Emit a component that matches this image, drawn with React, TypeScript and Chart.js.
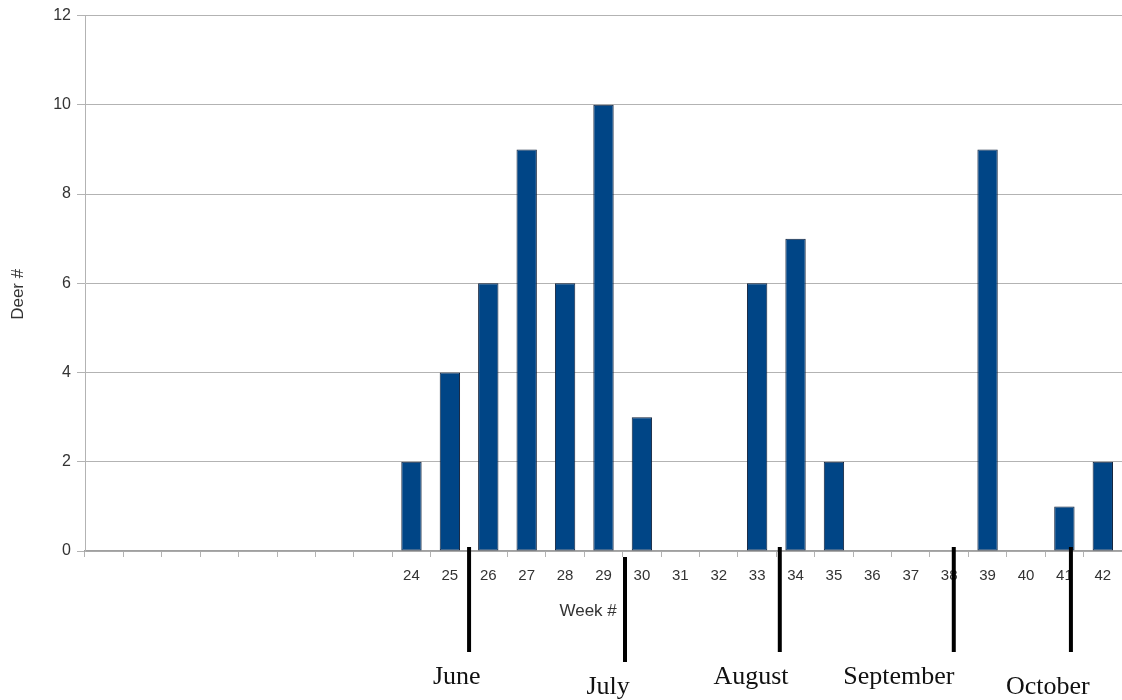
import React, { useEffect, useRef } from "react";
import { Chart, registerables } from "chart.js";

Chart.register(...registerables);

const weekLabels = ["", "", "", "", "", "", "", "", "24", "25", "26", "27", "28", "29", "30", "31", "32", "33", "34", "35", "36", "37", "38", "39", "40", "41", "42"];
const deerCounts = [null, null, null, null, null, null, null, null, 2, 4, 6, 9, 6, 10, 3, 0, 0, 6, 7, 2, 0, 0, 0, 9, 0, 1, 2];
const yTicks = [0, 2, 4, 6, 8, 10, 12];
const xAxisTitle = "Week #";
const yAxisTitle = "Deer #";

const monthNames = ["June", "July", "August", "September", "October"];
// position (in category units) of the marker line and of the label centre
const monthLinePos = [9.5, 13.56, 17.59, 22.12, 25.17];
const monthLabelPos = [9.18, 13.12, 16.84, 20.69, 24.57];

// pixel offsets relative to the zero line
const lineTop = [-4, 6, -4, -4, -4];
const lineBottom = [101, 111, 101, 101, 101];
const labelBaseline = [133, 143, 133, 133, 143];

const annotPlugin = {
  id: "monthMarks",
  afterDraw(chart: any) {
    const { ctx, chartArea } = chart;
    const x = chart.scales.x;
    const y0 = chart.scales.y.getPixelForValue(0);
    ctx.save();
    // axis titles
    ctx.fillStyle = "#333";
    ctx.font = "17px 'Liberation Sans'";
    ctx.textAlign = "center";
    ctx.textBaseline = "middle";
    ctx.fillText(xAxisTitle, x.getPixelForValue(12.6), y0 + 60);
    ctx.save();
    ctx.translate(18, (chartArea.top + chartArea.bottom) / 2 + 11);
    ctx.rotate(-Math.PI / 2);
    ctx.fillText(yAxisTitle, 0, 0);
    ctx.restore();
    // month markers
    ctx.strokeStyle = "#000";
    ctx.lineWidth = 4;
    ctx.fillStyle = "#111";
    ctx.font = "26px 'Liberation Serif'";
    ctx.textBaseline = "alphabetic";
    monthNames.forEach((name, i) => {
      const lx = x.getPixelForValue(monthLinePos[i]);
      ctx.beginPath();
      ctx.moveTo(lx, y0 + lineTop[i]);
      ctx.lineTo(lx, y0 + lineBottom[i]);
      ctx.stroke();
      const tx = x.getPixelForValue(monthLabelPos[i]);
      ctx.fillText(name, tx, y0 + labelBaseline[i]);
    });
    ctx.restore();
  },
};

export default function App() {
  const ref = useRef<HTMLCanvasElement | null>(null);
  useEffect(() => {
    if (!ref.current) return;
    const chart = new Chart(ref.current, {
      type: "bar",
      data: {
        labels: weekLabels,
        datasets: [
          {
            label: "Deer #",
            data: deerCounts as any,
            backgroundColor: "#004586",
            borderColor: "#10203a",
            borderWidth: 1,
            borderSkipped: false,
            barPercentage: 0.53,
            categoryPercentage: 1,
          },
        ],
      },
      options: {
        animation: false,
        responsive: false,
        devicePixelRatio: 1,
        layout: { padding: { top: 14, right: 0, left: 0, bottom: 0 } },
        plugins: { legend: { display: false }, tooltip: { enabled: false } },
        scales: {
          x: {
            afterFit: (scale: any) => {
              scale.height = 149;
            },
            grid: {
              offset: true,
              drawOnChartArea: false,
              drawTicks: true,
              tickLength: 6,
              color: "#b3b3b3",
            },
            border: { color: "#a0a0a0", width: 1.5 },
            ticks: {
              color: "#333",
              font: { family: "'Liberation Sans'", size: 15 },
              padding: 10,
              autoSkip: false,
              maxRotation: 0,
            },
          },
          y: {
            min: 0,
            max: 12,
            afterBuildTicks: (scale: any) => {
              scale.ticks = yTicks.map((v) => ({ value: v }));
            },
            afterFit: (scale: any) => {
              scale.width = 85;
            },
            grid: { color: "#b3b3b3", tickLength: 8, lineWidth: 1 },
            border: { color: "#b3b3b3" },
            ticks: {
              color: "#333",
              font: { family: "'Liberation Sans'", size: 16 },
              padding: 6,
            },
          },
        },
      },
      plugins: [annotPlugin],
    });
    return () => chart.destroy();
  }, []);
  return (
    <div style={{ position: "absolute", left: 0, top: 0, width: 1122, height: 700, background: "#fff" }}>
      <canvas ref={ref} width={1122} height={700} />
    </div>
  );
}
